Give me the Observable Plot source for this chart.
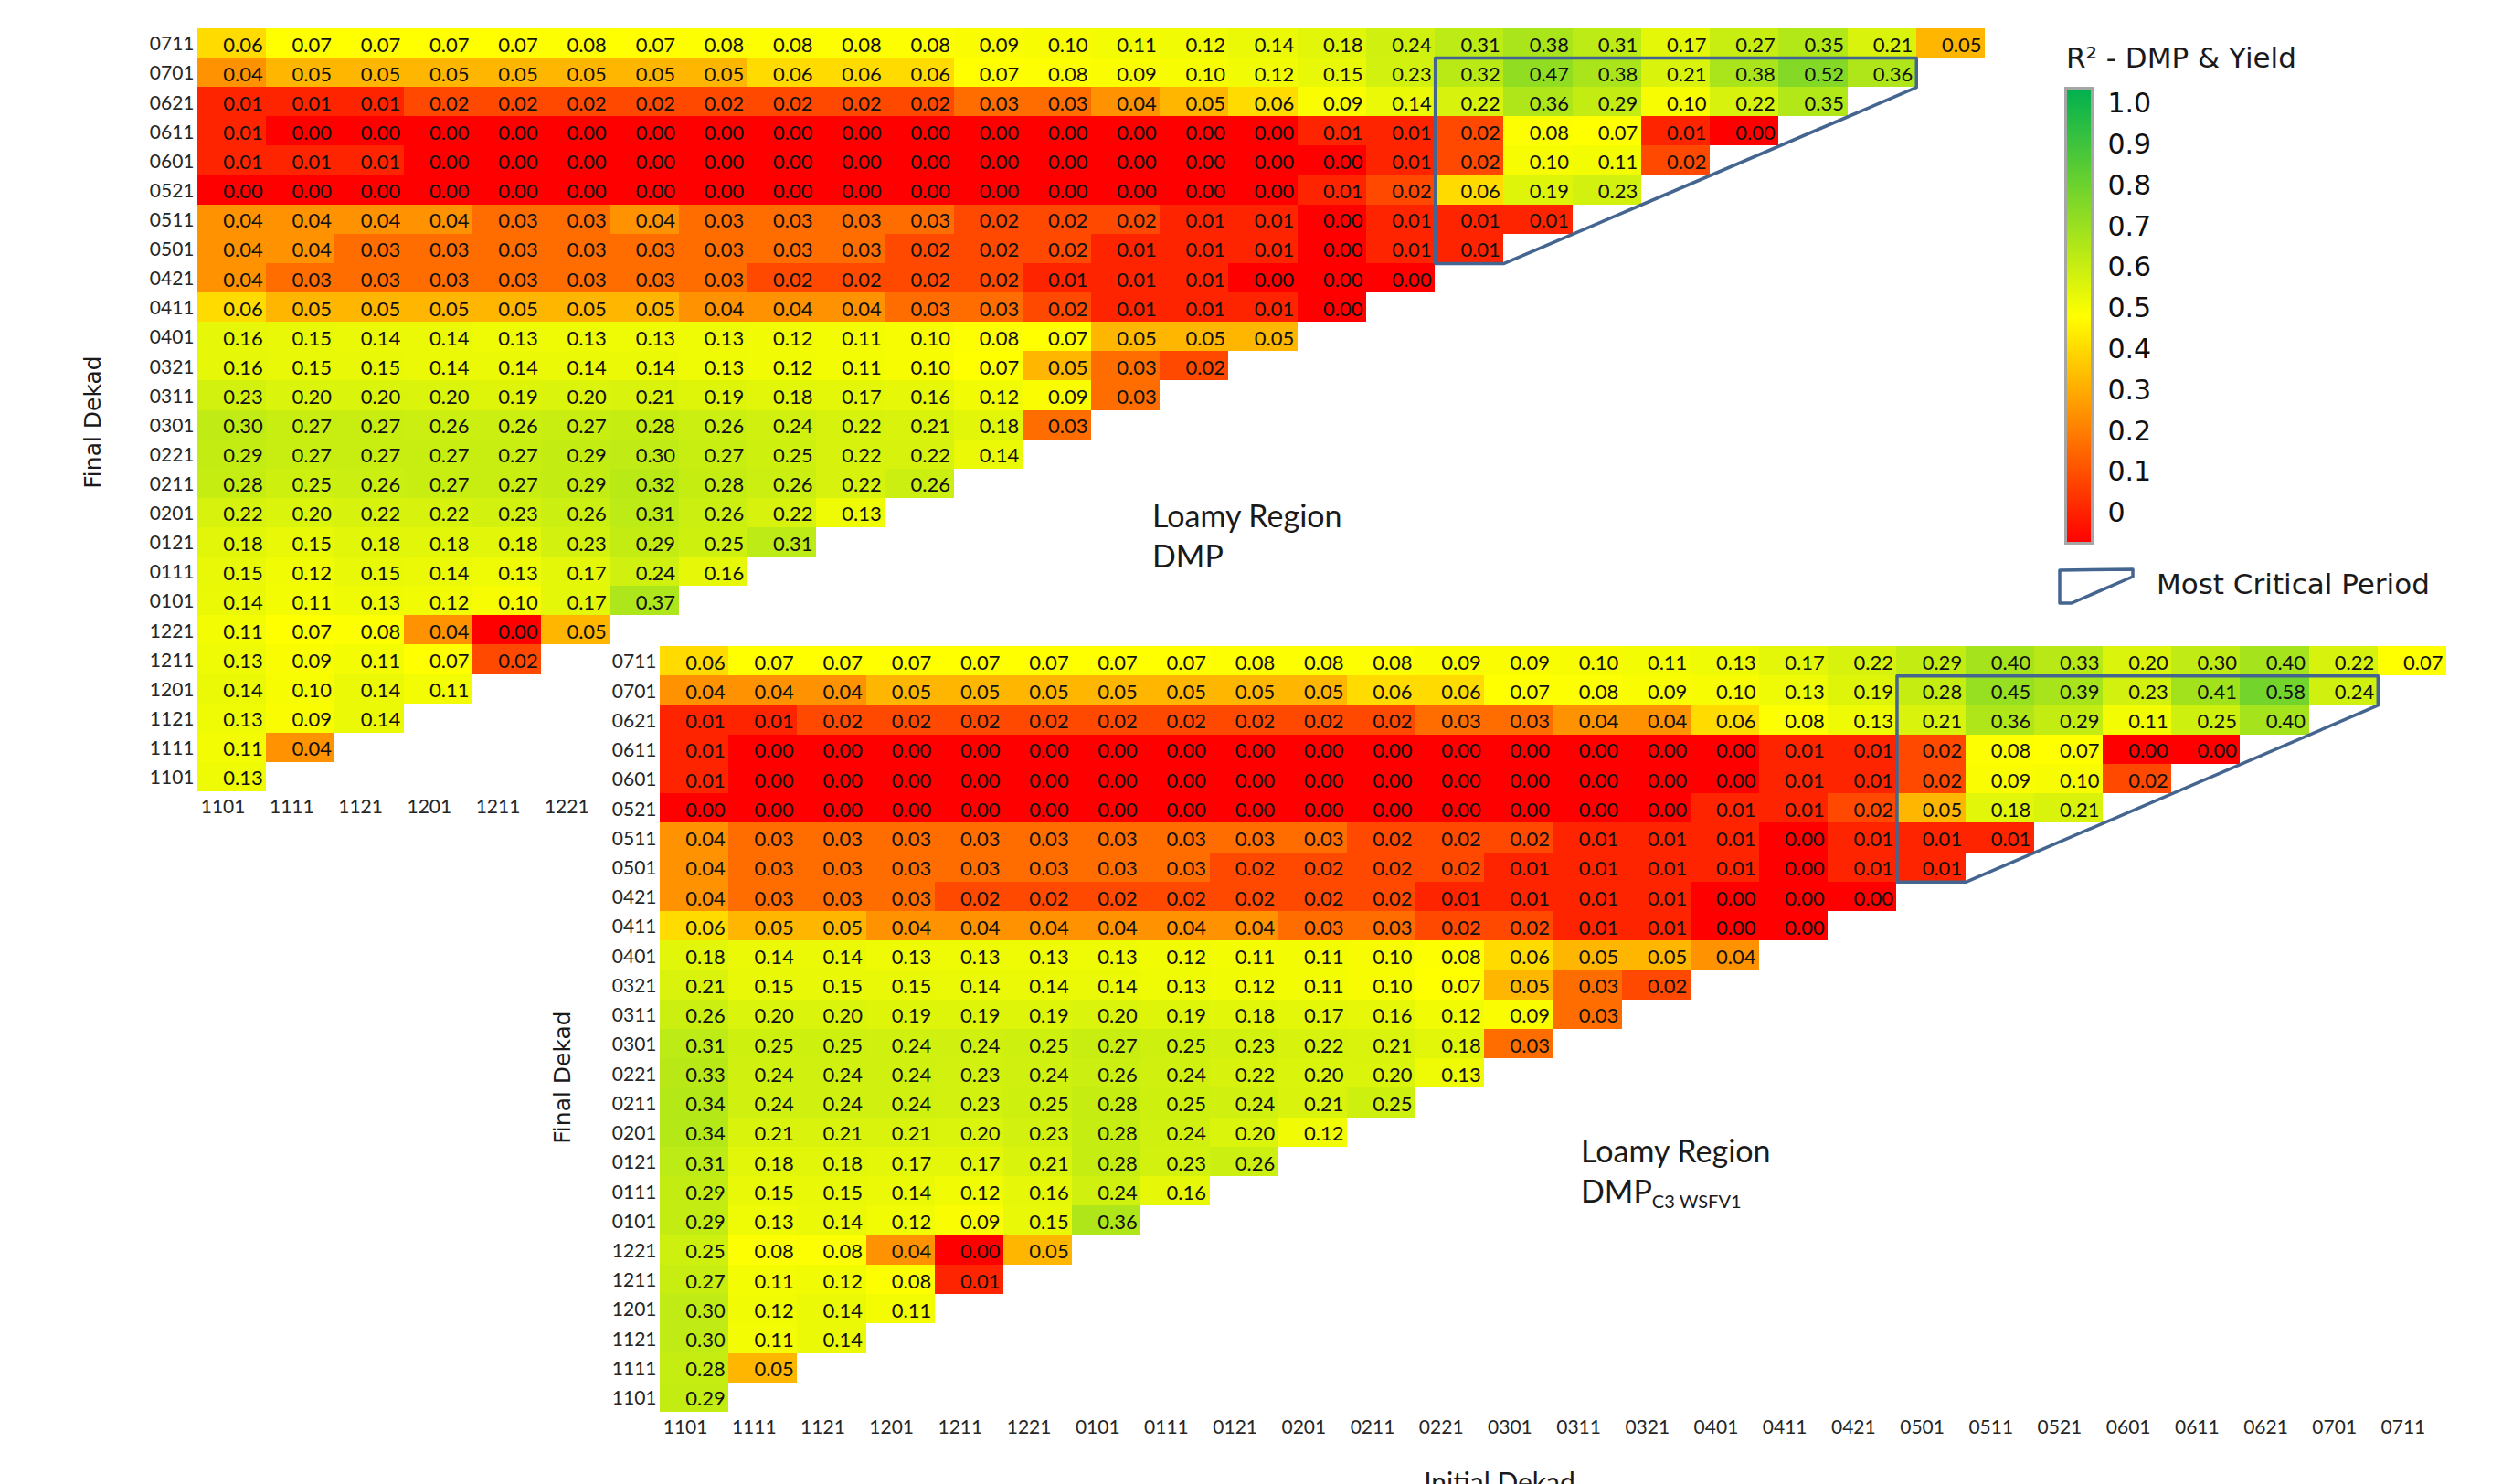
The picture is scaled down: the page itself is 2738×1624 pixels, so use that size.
<!DOCTYPE html>
<html>
<head>
<meta charset="utf-8">
<script src="https://cdn.jsdelivr.net/npm/d3@7"></script>
<script src="https://cdn.jsdelivr.net/npm/@observablehq/plot@0.6"></script>
<style>
  html, body { margin: 0; padding: 0; background: #fff; }
  #page { position: relative; width: 2738px; height: 1624px; overflow: hidden; background: #fff; }
  #page > svg { position: absolute; left: 0; top: 0; }
  .lbl { position: absolute; white-space: nowrap; color: #1a1a1a; }
  .ytitle { font-family: "DejaVu Sans", sans-serif; font-size: 25px; transform: translate(-50%, -50%) rotate(-90deg); }
  .region { font-family: Lato, sans-serif; font-size: 34px; line-height: 44px; }
  .region sub { font-size: 20px; vertical-align: -6px; }
  .legtxt { font-family: "DejaVu Sans", sans-serif; font-size: 31px; line-height: 1; }
</style>
</head>
<body>
<div id="page"></div>
<script>
// ---------------- data ----------------
const initialDekads = ["1101","1111","1121","1201","1211","1221","0101","0111","0121","0201","0211","0221","0301","0311","0321","0401","0411","0421","0501","0511","0521","0601","0611","0621","0701","0711"];
const finalDekads = ["0711","0701","0621","0611","0601","0521","0511","0501","0421","0411","0401","0321","0311","0301","0221","0211","0201","0121","0111","0101","1221","1211","1201","1121","1111","1101"];
const topXTickLabels = ["1101","1111","1121","1201","1211","1221"];

// R² DMP & Yield, Loamy Region, DMP  (rows = final dekad, top to bottom; columns = initial dekad from 1101)
const dmpRows = [
  [0.06,0.07,0.07,0.07,0.07,0.08,0.07,0.08,0.08,0.08,0.08,0.09,0.10,0.11,0.12,0.14,0.18,0.24,0.31,0.38,0.31,0.17,0.27,0.35,0.21,0.05],
  [0.04,0.05,0.05,0.05,0.05,0.05,0.05,0.05,0.06,0.06,0.06,0.07,0.08,0.09,0.10,0.12,0.15,0.23,0.32,0.47,0.38,0.21,0.38,0.52,0.36],
  [0.01,0.01,0.01,0.02,0.02,0.02,0.02,0.02,0.02,0.02,0.02,0.03,0.03,0.04,0.05,0.06,0.09,0.14,0.22,0.36,0.29,0.10,0.22,0.35],
  [0.01,0.00,0.00,0.00,0.00,0.00,0.00,0.00,0.00,0.00,0.00,0.00,0.00,0.00,0.00,0.00,0.01,0.01,0.02,0.08,0.07,0.01,0.00],
  [0.01,0.01,0.01,0.00,0.00,0.00,0.00,0.00,0.00,0.00,0.00,0.00,0.00,0.00,0.00,0.00,0.00,0.01,0.02,0.10,0.11,0.02],
  [0.00,0.00,0.00,0.00,0.00,0.00,0.00,0.00,0.00,0.00,0.00,0.00,0.00,0.00,0.00,0.00,0.01,0.02,0.06,0.19,0.23],
  [0.04,0.04,0.04,0.04,0.03,0.03,0.04,0.03,0.03,0.03,0.03,0.02,0.02,0.02,0.01,0.01,0.00,0.01,0.01,0.01],
  [0.04,0.04,0.03,0.03,0.03,0.03,0.03,0.03,0.03,0.03,0.02,0.02,0.02,0.01,0.01,0.01,0.00,0.01,0.01],
  [0.04,0.03,0.03,0.03,0.03,0.03,0.03,0.03,0.02,0.02,0.02,0.02,0.01,0.01,0.01,0.00,0.00,0.00],
  [0.06,0.05,0.05,0.05,0.05,0.05,0.05,0.04,0.04,0.04,0.03,0.03,0.02,0.01,0.01,0.01,0.00],
  [0.16,0.15,0.14,0.14,0.13,0.13,0.13,0.13,0.12,0.11,0.10,0.08,0.07,0.05,0.05,0.05],
  [0.16,0.15,0.15,0.14,0.14,0.14,0.14,0.13,0.12,0.11,0.10,0.07,0.05,0.03,0.02],
  [0.23,0.20,0.20,0.20,0.19,0.20,0.21,0.19,0.18,0.17,0.16,0.12,0.09,0.03],
  [0.30,0.27,0.27,0.26,0.26,0.27,0.28,0.26,0.24,0.22,0.21,0.18,0.03],
  [0.29,0.27,0.27,0.27,0.27,0.29,0.30,0.27,0.25,0.22,0.22,0.14],
  [0.28,0.25,0.26,0.27,0.27,0.29,0.32,0.28,0.26,0.22,0.26],
  [0.22,0.20,0.22,0.22,0.23,0.26,0.31,0.26,0.22,0.13],
  [0.18,0.15,0.18,0.18,0.18,0.23,0.29,0.25,0.31],
  [0.15,0.12,0.15,0.14,0.13,0.17,0.24,0.16],
  [0.14,0.11,0.13,0.12,0.10,0.17,0.37],
  [0.11,0.07,0.08,0.04,0.00,0.05],
  [0.13,0.09,0.11,0.07,0.02],
  [0.14,0.10,0.14,0.11],
  [0.13,0.09,0.14],
  [0.11,0.04],
  [0.13]
];

// R² DMP & Yield, Loamy Region, DMP C3 WSFV1
const dmpC3Rows = [
  [0.06,0.07,0.07,0.07,0.07,0.07,0.07,0.07,0.08,0.08,0.08,0.09,0.09,0.10,0.11,0.13,0.17,0.22,0.29,0.40,0.33,0.20,0.30,0.40,0.22,0.07],
  [0.04,0.04,0.04,0.05,0.05,0.05,0.05,0.05,0.05,0.05,0.06,0.06,0.07,0.08,0.09,0.10,0.13,0.19,0.28,0.45,0.39,0.23,0.41,0.58,0.24],
  [0.01,0.01,0.02,0.02,0.02,0.02,0.02,0.02,0.02,0.02,0.02,0.03,0.03,0.04,0.04,0.06,0.08,0.13,0.21,0.36,0.29,0.11,0.25,0.40],
  [0.01,0.00,0.00,0.00,0.00,0.00,0.00,0.00,0.00,0.00,0.00,0.00,0.00,0.00,0.00,0.00,0.01,0.01,0.02,0.08,0.07,0.00,0.00],
  [0.01,0.00,0.00,0.00,0.00,0.00,0.00,0.00,0.00,0.00,0.00,0.00,0.00,0.00,0.00,0.00,0.01,0.01,0.02,0.09,0.10,0.02],
  [0.00,0.00,0.00,0.00,0.00,0.00,0.00,0.00,0.00,0.00,0.00,0.00,0.00,0.00,0.00,0.01,0.01,0.02,0.05,0.18,0.21],
  [0.04,0.03,0.03,0.03,0.03,0.03,0.03,0.03,0.03,0.03,0.02,0.02,0.02,0.01,0.01,0.01,0.00,0.01,0.01,0.01],
  [0.04,0.03,0.03,0.03,0.03,0.03,0.03,0.03,0.02,0.02,0.02,0.02,0.01,0.01,0.01,0.01,0.00,0.01,0.01],
  [0.04,0.03,0.03,0.03,0.02,0.02,0.02,0.02,0.02,0.02,0.02,0.01,0.01,0.01,0.01,0.00,0.00,0.00],
  [0.06,0.05,0.05,0.04,0.04,0.04,0.04,0.04,0.04,0.03,0.03,0.02,0.02,0.01,0.01,0.00,0.00],
  [0.18,0.14,0.14,0.13,0.13,0.13,0.13,0.12,0.11,0.11,0.10,0.08,0.06,0.05,0.05,0.04],
  [0.21,0.15,0.15,0.15,0.14,0.14,0.14,0.13,0.12,0.11,0.10,0.07,0.05,0.03,0.02],
  [0.26,0.20,0.20,0.19,0.19,0.19,0.20,0.19,0.18,0.17,0.16,0.12,0.09,0.03],
  [0.31,0.25,0.25,0.24,0.24,0.25,0.27,0.25,0.23,0.22,0.21,0.18,0.03],
  [0.33,0.24,0.24,0.24,0.23,0.24,0.26,0.24,0.22,0.20,0.20,0.13],
  [0.34,0.24,0.24,0.24,0.23,0.25,0.28,0.25,0.24,0.21,0.25],
  [0.34,0.21,0.21,0.21,0.20,0.23,0.28,0.24,0.20,0.12],
  [0.31,0.18,0.18,0.17,0.17,0.21,0.28,0.23,0.26],
  [0.29,0.15,0.15,0.14,0.12,0.16,0.24,0.16],
  [0.29,0.13,0.14,0.12,0.09,0.15,0.36],
  [0.25,0.08,0.08,0.04,0.00,0.05],
  [0.27,0.11,0.12,0.08,0.01],
  [0.30,0.12,0.14,0.11],
  [0.30,0.11,0.14],
  [0.28,0.05],
  [0.29]
];

// most critical period: initial and final dekads bounding it
const criticalInitial = ["0501", "0701"];
const criticalFinal = ["0501", "0701"];

// legend
const legendTickValues = [1.0, 0.9, 0.8, 0.7, 0.6, 0.5, 0.4, 0.3, 0.2, 0.1, 0];
const legendTickLabels = ["1.0","0.9","0.8","0.7","0.6","0.5","0.4","0.3","0.2","0.1","0"];

// ---------------- helpers ----------------
function toCells(rows) {
  const cells = [];
  rows.forEach((row, ri) => row.forEach((v, ci) => cells.push({ri, ci, v, fin: finalDekads[ri], ini: initialDekads[ci]})));
  return cells;
}
function criticalOutline() {
  const c0 = initialDekads.indexOf(criticalInitial[0]);
  const c1 = initialDekads.indexOf(criticalInitial[1]);
  const r0 = finalDekads.indexOf(criticalFinal[1]);
  const r1 = finalDekads.indexOf(criticalFinal[0]);
  return [
    {x: c0, y: r0}, {x: c1 + 1, y: r0}, {x: c1 + 1, y: r0 + 1},
    {x: c0 + 1, y: r1 + 1}, {x: c0, y: r1 + 1}, {x: c0, y: r0}
  ];
}
const colorScale = {type: "linear", domain: [0, 0.07, 1], range: ["#FF0000", "#FFFF00", "#00B050"], interpolate: "rgb"};
const fmt = d3.format(".2f");

function heatmap(rows, opts) {
  const cells = toCells(rows);
  return Plot.plot({
    width: 2738,
    height: opts.height,
    marginLeft: opts.left,
    marginRight: 2738 - opts.right,
    marginTop: opts.top,
    marginBottom: opts.height - opts.bottom,
    x: {domain: [0, 26]},
    y: {domain: [0, 26], reverse: true},
    color: colorScale,
    style: {background: "none", fontFamily: "Lato, sans-serif", fontSize: "21px", color: "#262626", overflow: "visible"},
    marks: [
      Plot.rect(cells, {x1: "ci", x2: d => d.ci + 1, y1: "ri", y2: d => d.ri + 1, fill: "v", shapeRendering: "crispEdges"}),
      Plot.text(cells, {x: d => d.ci + 1, y: d => d.ri + 0.5, text: d => fmt(d.v), textAnchor: "end",
                        dx: -4, dy: 2, fontSize: 22, fill: "#111"}),
      Plot.line(criticalOutline(), {x: "x", y: "y", stroke: "#44658F", strokeWidth: 3.5, strokeLinejoin: "round"}),
      Plot.axisX(opts.xTicks.map(l => initialDekads.indexOf(l) + 0.5), {
        tickFormat: d => initialDekads[Math.floor(d)], tickSize: 0, tickPadding: 9, dx: -10, label: null, fontSize: 21}),
      Plot.axisY(finalDekads.map((d, i) => i + 0.5), {
        tickFormat: d => finalDekads[Math.floor(d)], tickSize: 0, tickPadding: 4, dy: 1, label: null, fontSize: 21})
    ]
  });
}

const page = document.getElementById("page");

const topPlot = heatmap(dmpRows, {height: 910, left: 216, right: 2172, top: 31, bottom: 866, xTicks: topXTickLabels});
page.appendChild(topPlot);

const bottomPlot = heatmap(dmpC3Rows, {height: 1624, left: 722, right: 2677, top: 707, bottom: 1545, xTicks: initialDekads});
page.appendChild(bottomPlot);

// legend colour bar
const legendPlot = Plot.plot({
  width: 200, height: 518,
  marginLeft: 20, marginRight: 151, marginTop: 10, marginBottom: 10,
  x: {axis: null, domain: [0, 1]},
  y: {domain: [0, 1], insetTop: 17, insetBottom: 33, ticks: legendTickValues,
      tickFormat: (d) => legendTickLabels[legendTickValues.indexOf(d)], tickSize: 0, tickPadding: 17, axis: "right", label: null},
  style: {background: "none", fontFamily: "DejaVu Sans, sans-serif", fontSize: "30px", color: "#111", overflow: "visible"},
  marks: [Plot.frame({fill: "url(#legendGrad)", stroke: "#A6A6A6", strokeWidth: 3})]
});
const defs = d3.select(legendPlot).insert("defs", ":first-child");
const grad = defs.append("linearGradient").attr("id", "legendGrad").attr("x1", 0).attr("y1", 0).attr("x2", 0).attr("y2", 1);
grad.append("stop").attr("offset", "0%").attr("stop-color", "#00B050");
grad.append("stop").attr("offset", "50%").attr("stop-color", "#FFFF00");
grad.append("stop").attr("offset", "100%").attr("stop-color", "#FF0000");
legendPlot.style.left = "2240px";
legendPlot.style.top = "86px";
page.appendChild(legendPlot);

// text labels
function addLabel(html, cls, left, top) {
  const d = document.createElement("div");
  d.className = "lbl " + cls;
  d.innerHTML = html;
  d.style.left = left + "px";
  d.style.top = top + "px";
  page.appendChild(d);
  return d;
}
addLabel("Final Dekad", "ytitle", 101, 462);
addLabel("Final Dekad", "ytitle", 615, 1179);
addLabel("Loamy Region<br>DMP", "region", 1261, 542);
addLabel("Loamy Region<br>DMP<sub>C3 WSFV1</sub>", "region", 1730, 1237);
const ini = addLabel("Initial Dekad", "", 1641, 1606);
ini.style.fontFamily = "Lato, sans-serif";
ini.style.fontSize = "30px";
ini.style.lineHeight = "1";
ini.style.transform = "translateX(-50%)";
addLabel("R² - DMP &amp; Yield", "legtxt", 2261, 48);
addLabel("Most Critical Period", "legtxt", 2360, 624);

// critical period legend glyph
const glyph = document.createElementNS("http://www.w3.org/2000/svg", "svg");
glyph.setAttribute("width", "90");
glyph.setAttribute("height", "44");
glyph.style.left = "2251px";
glyph.style.top = "620px";
glyph.innerHTML = '<polygon points="3,4 83,3 83,11 16,40 3,40" fill="none" stroke="#44658F" stroke-width="3.5" stroke-linejoin="round"/>';
page.appendChild(glyph);
</script>
</body>
</html>
